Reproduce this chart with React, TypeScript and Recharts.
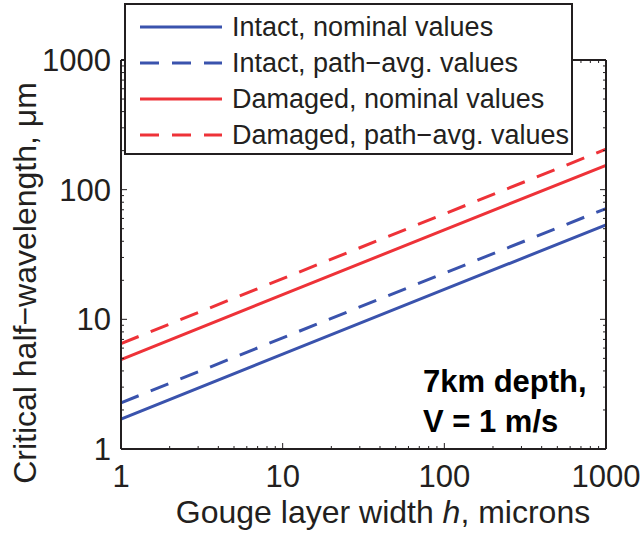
import { LineChart, Line, XAxis, YAxis, Legend, Customized } from 'recharts'

const xValues = [1, 10, 100, 1000]
const intactNominal = [1.7, 5.4, 17, 53.5]
const intactPathAvg = [2.27, 7.2, 22.7, 71.5]
const damagedNominal = [4.9, 15.5, 49, 154]
const damagedPathAvg = [6.5, 20.6, 65, 205]

const xMajorTicks = [1, 10, 100, 1000]
const yMajorTicks = [1, 10, 100, 1000]

const BLUE = '#3a53ad'
const RED = '#ee3238'
const INK = '#231f20'
const FONT = '"Liberation Sans", Arial, Helvetica, sans-serif'

const series = [
  { key: 'intactNominal', name: 'Intact, nominal values', color: BLUE, dash: undefined },
  { key: 'intactPathAvg', name: 'Intact, path\u2212avg. values', color: BLUE, dash: '19 13' },
  { key: 'damagedNominal', name: 'Damaged, nominal values', color: RED, dash: undefined },
  { key: 'damagedPathAvg', name: 'Damaged, path\u2212avg. values', color: RED, dash: '19 13' },
]

const data = xValues.map((x, i) => ({
  x,
  intactNominal: intactNominal[i],
  intactPathAvg: intactPathAvg[i],
  damagedNominal: damagedNominal[i],
  damagedPathAvg: damagedPathAvg[i],
}))

// minor log ticks (2..9 in each decade) plus the decades
function logTicks(majors: number[]) {
  const out: number[] = []
  majors.forEach((m, i) => {
    out.push(m)
    if (i < majors.length - 1) for (let k = 2; k <= 9; k++) out.push(m * k)
  })
  return out
}
const xTicks = logTicks(xMajorTicks)
const yTicks = logTicks(yMajorTicks)

function BottomTick(props: any) {
  const { x, y, payload } = props
  const major = xMajorTicks.includes(payload.value)
  return (
    <g>
      <line x1={x} x2={x} y1={y} y2={y - (major ? 6 : 3)} stroke={INK} strokeWidth={1} />
      {major && (
        <text x={x} y={y + 38} textAnchor="middle" fontSize={31} fontFamily={FONT} fill={INK}>
          {payload.value}
        </text>
      )}
    </g>
  )
}

function TopTick(props: any) {
  const { x, y, payload } = props
  const major = xMajorTicks.includes(payload.value)
  return <line x1={x} x2={x} y1={y} y2={y + (major ? 6 : 3)} stroke={INK} strokeWidth={1} />
}

function LeftTick(props: any) {
  const { x, y, payload } = props
  const major = yMajorTicks.includes(payload.value)
  return (
    <g>
      <line x1={x} x2={x + (major ? 6 : 3)} y1={y} y2={y} stroke={INK} strokeWidth={1} />
      {major && (
        <text x={x - 10} y={y + 11} textAnchor="end" fontSize={31} fontFamily={FONT} fill={INK}>
          {payload.value}
        </text>
      )}
    </g>
  )
}

function RightTick(props: any) {
  const { x, y, payload } = props
  const major = yMajorTicks.includes(payload.value)
  return <line x1={x} x2={x - (major ? 6 : 3)} y1={y} y2={y} stroke={INK} strokeWidth={1} />
}

function LegendBox() {
  return (
    <div
      style={{
        position: 'relative',
        width: 449,
        height: 152,
        boxSizing: 'border-box',
        border: `2px solid ${INK}`,
        background: '#fff',
        fontFamily: FONT,
        fontSize: 27,
        color: INK,
      }}
    >
      {series.map((s, i) => (
        <div
          key={s.key}
          style={{ position: 'absolute', left: 0, top: 4 + i * 36, height: 36, lineHeight: '36px', whiteSpace: 'nowrap' }}
        >
          <svg width={100} height={36} style={{ position: 'absolute', left: 0, top: 0 }}>
            <line x1={14} x2={96} y1={18} y2={18} stroke={s.color} strokeWidth={3} strokeDasharray={s.dash} />
          </svg>
          <span style={{ position: 'absolute', left: 106, top: 0 }}>{s.name}</span>
        </div>
      ))}
    </div>
  )
}

function Annotation() {
  return (
    <g fontFamily={FONT} fontWeight="bold" fontSize={31} fill="#000">
      <text x={423} y={392}>7km depth,</text>
      <text x={423} y={432}>V = 1 m/s</text>
    </g>
  )
}

function YLabel() {
  return (
    <text
      x={36}
      y={283}
      transform="rotate(-90, 36, 283)"
      textAnchor="middle"
      fontSize={32}
      fontFamily={FONT}
      fill={INK}
    >
      Critical half{'\u2212'}wavelength, {'\u03bc'}m
    </text>
  )
}

function XLabel() {
  return (
    <text x={383} y={523} textAnchor="middle" fontSize={32} fontFamily={FONT} fill={INK}>
      Gouge layer width <tspan fontStyle="italic">h</tspan>, microns
    </text>
  )
}

export default function App() {
  return (
    <div style={{ position: 'absolute', left: 0, top: 0, width: 644, height: 537, background: '#fff' }}>
      <LineChart width={644} height={537} data={data} margin={{ top: 59, right: 37, bottom: 38, left: 0 }}>
        <XAxis
          dataKey="x"
          type="number"
          scale="log"
          domain={[1, 1000]}
          allowDataOverflow
          ticks={xTicks}
          interval={0}
          tickSize={0}
          tickMargin={0}
          tickLine={false}
          tick={<BottomTick />}
          height={50}
          axisLine={{ stroke: INK, strokeWidth: 2 }}
        />
        <XAxis
          xAxisId="top"
          orientation="top"
          dataKey="x"
          type="number"
          scale="log"
          domain={[1, 1000]}
          allowDataOverflow
          ticks={xTicks}
          interval={0}
          tickSize={0}
          tickMargin={0}
          tickLine={false}
          tick={<TopTick />}
          height={1}
          axisLine={{ stroke: INK, strokeWidth: 2 }}
        />
        <YAxis
          type="number"
          scale="log"
          domain={[1, 1000]}
          allowDataOverflow
          ticks={yTicks}
          interval={0}
          tickSize={0}
          tickMargin={0}
          tickLine={false}
          tick={<LeftTick />}
          width={121}
          axisLine={{ stroke: INK, strokeWidth: 2 }}
        />
        <YAxis
          yAxisId="right"
          orientation="right"
          type="number"
          scale="log"
          domain={[1, 1000]}
          allowDataOverflow
          ticks={yTicks}
          interval={0}
          tickSize={0}
          tickMargin={0}
          tickLine={false}
          tick={<RightTick />}
          width={1}
          axisLine={{ stroke: INK, strokeWidth: 2 }}
        />
        {series.map((s) => (
          <Line
            key={s.key}
            type="linear"
            dataKey={s.key}
            name={s.name}
            stroke={s.color}
            strokeWidth={3}
            strokeDasharray={s.dash}
            dot={false}
            activeDot={false}
            isAnimationActive={false}
          />
        ))}
        <Customized component={Annotation} />
        <Customized component={YLabel} />
        <Customized component={XLabel} />
        <Legend
          layout="vertical"
          align="center"
          verticalAlign="middle"
          content={() => <LegendBox />}
          wrapperStyle={{ left: 124, top: 3, width: 449, height: 152 }}
        />
      </LineChart>
    </div>
  )
}
